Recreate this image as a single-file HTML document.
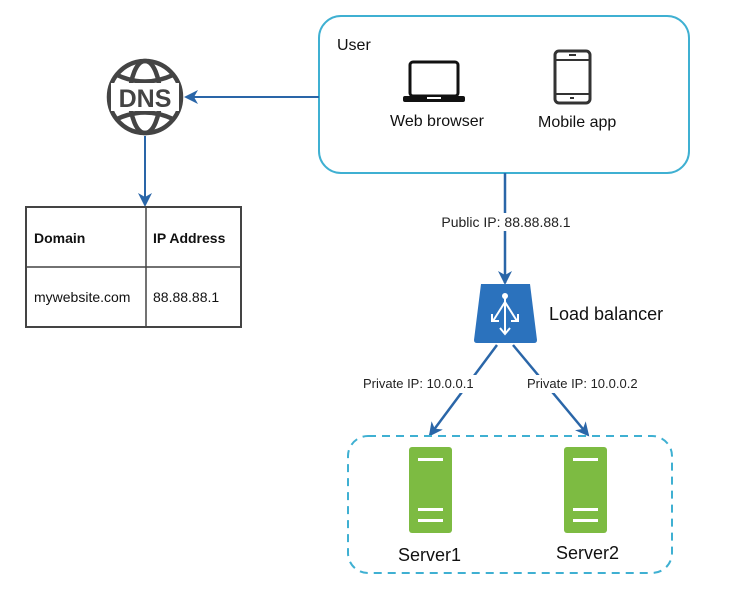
<!DOCTYPE html>
<html><head><style>
body{margin:0;background:#fff;}
text{font-family:"Liberation Sans",Arial,sans-serif;}
</style></head><body>
<svg width="743" height="586" viewBox="0 0 743 586" xmlns="http://www.w3.org/2000/svg">
<defs>
<marker id="ah" markerWidth="14" markerHeight="14" refX="12" refY="7" orient="auto" markerUnits="userSpaceOnUse">
<path d="M0,0 L14,7 L0,14 L4,7 Z" fill="#2a66a8"/>
</marker>
</defs>
<!-- User box -->
<rect x="319" y="16" width="370" height="157" rx="22" fill="#fff" stroke="#3fb0d2" stroke-width="2"/>
<text x="337" y="50" font-size="16" fill="#111">User</text>
<!-- laptop -->
<rect x="410" y="62" width="48" height="34" rx="3" fill="none" stroke="#111" stroke-width="3"/>
<rect x="403" y="96" width="62" height="6" rx="2" fill="#111"/>
<rect x="427" y="97" width="14" height="2" fill="#fff"/>
<text x="390" y="126" font-size="16" fill="#111">Web browser</text>
<!-- phone -->
<rect x="555" y="51" width="35" height="52" rx="4" fill="none" stroke="#333" stroke-width="3"/>
<line x1="555" y1="60" x2="590" y2="60" stroke="#333" stroke-width="2"/>
<line x1="555" y1="94" x2="590" y2="94" stroke="#333" stroke-width="2"/>
<rect x="569" y="54" width="7" height="2" fill="#333"/>
<rect x="570" y="97" width="4" height="2" fill="#333"/>
<text x="538" y="127" font-size="16" fill="#111">Mobile app</text>
<!-- DNS globe -->
<g stroke="#444" fill="none" stroke-width="4.5">
<circle cx="145" cy="97" r="36"/>
<ellipse cx="145" cy="97" rx="15" ry="36"/>
<path d="M117,75 Q145,88 173,75"/>
<path d="M117,119 Q145,106 173,119"/>
</g>
<rect x="111" y="83" width="68" height="28" fill="#fff"/>
<text x="145" y="107" font-size="25" font-weight="bold" fill="#444" text-anchor="middle">DNS</text>
<line x1="319" y1="97" x2="186" y2="97" stroke="#2a66a8" stroke-width="2" marker-end="url(#ah)"/>
<line x1="145" y1="136" x2="145" y2="205" stroke="#2a66a8" stroke-width="2" marker-end="url(#ah)"/>
<!-- table -->
<rect x="26" y="207" width="215" height="120" fill="#fff" stroke="#444" stroke-width="2"/>
<line x1="146" y1="207" x2="146" y2="327" stroke="#444" stroke-width="1.5"/>
<line x1="26" y1="267" x2="241" y2="267" stroke="#444" stroke-width="1.5"/>
<text x="34" y="243" font-size="14" font-weight="bold" fill="#111">Domain</text>
<text x="153" y="243" font-size="14" font-weight="bold" fill="#111">IP Address</text>
<text x="34" y="302" font-size="14" fill="#111">mywebsite.com</text>
<text x="153" y="302" font-size="14" fill="#111">88.88.88.1</text>
<!-- public ip arrow -->
<line x1="505" y1="173" x2="505" y2="283" stroke="#2a66a8" stroke-width="2.5" marker-end="url(#ah)"/>
<rect x="438" y="213" width="136" height="18" fill="#fff"/>
<text x="506" y="227" font-size="14" fill="#222" text-anchor="middle">Public IP: 88.88.88.1</text>
<!-- LB -->
<path d="M481,284 L530,284 L537,340 Q537,343 534,343 L477,343 Q474,343 474,340 Z" fill="#2b72bd"/>
<g stroke="#fff" stroke-width="2" fill="none">
<line x1="505" y1="296" x2="505" y2="333"/>
<polyline points="500,328 505,334 510,328"/>
<line x1="505" y1="302" x2="493" y2="321"/>
<line x1="505" y1="302" x2="517" y2="321"/>
<polyline points="492,314 492,321 499,321"/>
<polyline points="518,314 518,321 511,321"/>
</g>
<circle cx="505" cy="296" r="3" fill="#fff"/>
<text x="549" y="320" font-size="18" fill="#111">Load balancer</text>
<!-- private links -->
<line x1="497" y1="345" x2="430" y2="435" stroke="#2a66a8" stroke-width="2.5" marker-end="url(#ah)"/>
<line x1="513" y1="345" x2="588" y2="435" stroke="#2a66a8" stroke-width="2.5" marker-end="url(#ah)"/>
<rect x="360" y="375" width="122" height="18" fill="#fff"/>
<rect x="524" y="375" width="122" height="18" fill="#fff"/>
<text x="363" y="388" font-size="13" fill="#222">Private IP: 10.0.0.1</text>
<text x="527" y="388" font-size="13" fill="#222">Private IP: 10.0.0.2</text>
<!-- dashed box -->
<rect x="348" y="436" width="324" height="137" rx="20" fill="none" stroke="#3fb0d2" stroke-width="2" stroke-dasharray="8,6"/>
<!-- servers -->
<g fill="#7dbb42">
<rect x="409" y="447" width="43" height="86" rx="3"/>
<rect x="564" y="447" width="43" height="86" rx="3"/>
</g>
<g fill="#fff">
<rect x="418" y="458" width="25" height="3"/><rect x="418" y="508" width="25" height="3"/><rect x="418" y="519" width="25" height="3"/>
<rect x="573" y="458" width="25" height="3"/><rect x="573" y="508" width="25" height="3"/><rect x="573" y="519" width="25" height="3"/>
</g>
<text x="398" y="561" font-size="18" fill="#111">Server1</text>
<text x="556" y="559" font-size="18" fill="#111">Server2</text>
</svg>
</body></html>
